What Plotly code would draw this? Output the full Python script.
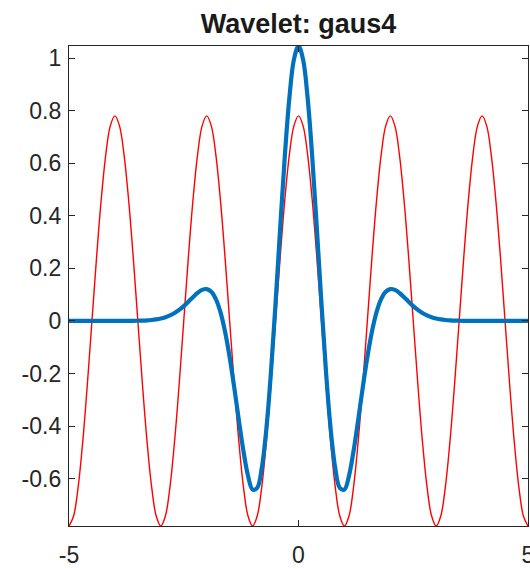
import plotly.graph_objects as go

# x samples (step 0.1 from -5 to 5)
x_vals = [round(-5 + 0.1 * i, 1) for i in range(101)]

# red sinusoid values (one period = 20 samples)
red_period = [-0.78, -0.742, -0.631, -0.458, -0.241, 0.0, 0.241, 0.458, 0.631, 0.742,
              0.78, 0.742, 0.631, 0.458, 0.241, 0.0, -0.241, -0.458, -0.631, -0.742]
red_vals = (red_period * 6)[:101]

# gaus4 wavelet values for x = 0, 0.1, ..., 5.0 (symmetric)
blue_half = [1.046, 0.9943, 0.8463, 0.6222, 0.3513, 0.0679, -0.1950, -0.4100, -0.5592, -0.6353,
             -0.6413, -0.5889, -0.4945, -0.3767, -0.2531, -0.1378, -0.0406, 0.0335, 0.0834, 0.1114,
             0.1213, 0.1181, 0.1065, 0.0905, 0.0732, 0.0567, 0.0423, 0.0305, 0.0213, 0.0143,
             0.0094, 0.0060, 0.0037, 0.0022, 0.0013, 0.0008, 0.0004, 0.0002, 0.0001, 0.0, 0.0,
             0.0, 0.0, 0.0, 0.0, 0.0, 0.0, 0.0, 0.0, 0.0, 0.0]
blue_vals = blue_half[:0:-1] + blue_half

x_ticks = [-5, 0, 5]
y_ticks = [-0.6, -0.4, -0.2, 0, 0.2, 0.4, 0.6, 0.8, 1]
y_tick_text = ["-0.6", "-0.4", "-0.2", "0", "0.2", "0.4", "0.6", "0.8", "1"]
title_text = "Wavelet: gaus4"

fig = go.Figure()
fig.add_trace(go.Scatter(x=x_vals, y=red_vals, mode="lines",
                         line=dict(color="#FF0000", width=1.4, shape="spline"),
                         showlegend=False))
fig.add_trace(go.Scatter(x=x_vals, y=blue_vals, mode="lines",
                         line=dict(color="#0072BD", width=4.2, shape="spline"),
                         showlegend=False))

fig.update_layout(
    width=530, height=569,
    margin=dict(l=69, r=2, t=46, b=43, autoexpand=False),
    paper_bgcolor="white", plot_bgcolor="white",
    font=dict(family="Liberation Sans, Arial, sans-serif", size=23, color="#262626"),
    title=dict(text="<b>" + title_text + "</b>", x=0.5, xanchor="center",
               xref="paper", y=1, yref="paper", yanchor="bottom", pad=dict(b=13),
               font=dict(size=27, color="#1a1a1a")),
)
fig.update_xaxes(range=[-5, 5], tickvals=x_ticks, ticktext=[str(v) for v in x_ticks],
                 ticks="inside", ticklen=6, tickcolor="#262626", automargin=False,
                 ticklabeloverflow="allow", ticklabelstandoff=8,
                 showline=True, linecolor="#262626", linewidth=1.3, mirror="ticks",
                 showgrid=False, zeroline=False)
fig.update_yaxes(range=[-0.78, 1.046], tickvals=y_ticks, ticktext=y_tick_text,
                 ticks="inside", ticklen=6, tickcolor="#262626", automargin=False,
                 ticklabeloverflow="allow", ticklabelstandoff=2,
                 showline=True, linecolor="#262626", linewidth=1.3, mirror="ticks",
                 showgrid=False, zeroline=False)

fig.write_html("out.html",
               config={"displayModeBar": False},
               post_script="document.body.style.margin='0';"
                           "document.body.style.overflow='hidden';")
